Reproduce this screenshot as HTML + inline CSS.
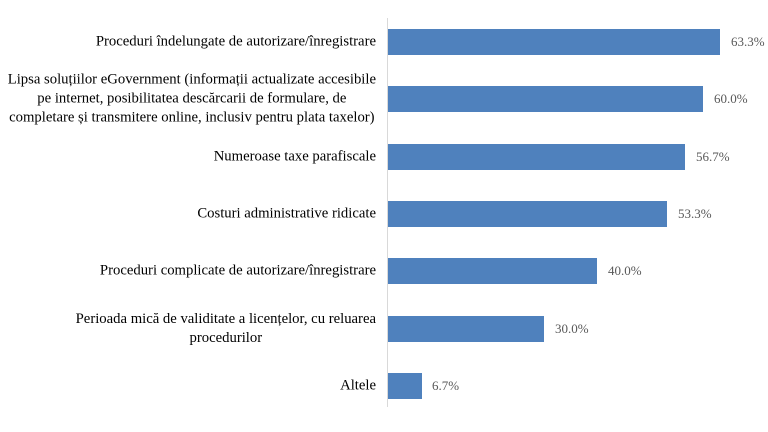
<!DOCTYPE html>
<html><head><meta charset="utf-8"><style>
body{margin:0;width:768px;height:432px;background:#fff;position:relative;overflow:hidden;font-family:"Liberation Serif",serif;}
.ax{position:absolute;left:387px;top:18px;width:1px;height:389px;background:#d9d9d9;}
.bar{position:absolute;left:388px;height:26px;background:#4f81bd;}
.v{position:absolute;font-size:13px;color:#595959;line-height:16px;}
.lab{position:absolute;right:392px;font-size:14.7px;color:#000;line-height:19px;text-align:center;transform:translateY(-50%);white-space:nowrap;}
</style></head><body>
<div class="ax"></div>

<div class="bar" style="top:29px;width:332px"></div><div class="v" style="left:731px;top:34px">63.3%</div>
<div class="lab" style="top:42px">Proceduri îndelungate de autorizare/înregistrare</div>

<div class="bar" style="top:86px;width:315px"></div><div class="v" style="left:714px;top:91px">60.0%</div>
<div class="lab" style="top:99px">Lipsa soluțiilor eGovernment (informații actualizate accesibile<br>pe internet, posibilitatea descărcarii de formulare, de<br>completare și transmitere online, inclusiv pentru plata taxelor)</div>

<div class="bar" style="top:144px;width:297px"></div><div class="v" style="left:696px;top:149px">56.7%</div>
<div class="lab" style="top:157px">Numeroase taxe parafiscale</div>

<div class="bar" style="top:201px;width:279px"></div><div class="v" style="left:678px;top:206px">53.3%</div>
<div class="lab" style="top:214px">Costuri administrative ridicate</div>

<div class="bar" style="top:258px;width:209px"></div><div class="v" style="left:608px;top:263px">40.0%</div>
<div class="lab" style="top:271px">Proceduri complicate de autorizare/înregistrare</div>

<div class="bar" style="top:316px;width:156px"></div><div class="v" style="left:555px;top:321px">30.0%</div>
<div class="lab" style="top:329px">Perioada mică de validitate a licențelor, cu reluarea<br>procedurilor</div>

<div class="bar" style="top:373px;width:34px"></div><div class="v" style="left:432px;top:378px">6.7%</div>
<div class="lab" style="top:386px">Altele</div>
</body></html>
